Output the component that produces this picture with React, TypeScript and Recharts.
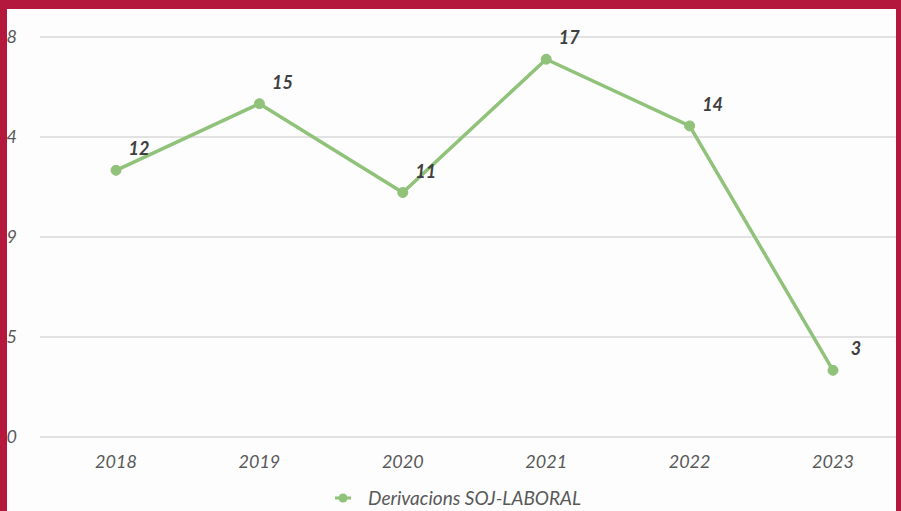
import { LineChart, Line, XAxis, YAxis, CartesianGrid, Legend, LabelList } from 'recharts';

const years = ['2018', '2019', '2020', '2021', '2022', '2023'];
const derivacions = [12, 15, 11, 17, 14, 3];
const yTicks = [0, 4.5, 9, 13.5, 18];
const seriesName = 'Derivacions SOJ-LABORAL';

const data = years.map((year, i) => ({ year, value: derivacions[i] }));

const GREEN = '#90c27a';
const CRIMSON = '#b4183c';
const FONT = 'Lato, "Open Sans", sans-serif';

const PointLabel = (props: any) => {
  const { x, y, value } = props;
  return (
    <text
      x={x + 23}
      y={y - 22}
      textAnchor="middle"
      dominantBaseline="central"
      fontFamily={FONT}
      fontSize={18}
      fontStyle="italic"
      fontWeight={700}
      fill="#404040"
    >
      {value}
    </text>
  );
};

const LegendContent = () => (
  <div style={{ display: 'flex', alignItems: 'center', fontFamily: FONT }}>
    <svg width={18} height={12} style={{ marginRight: 16 }}>
      <line x1={1} y1={6} x2={17} y2={6} stroke={GREEN} strokeWidth={3} />
      <circle cx={9} cy={6} r={4.5} fill={GREEN} />
    </svg>
    <span style={{ fontSize: 19, fontStyle: 'italic', color: '#595959' }}>{seriesName}</span>
  </div>
);

export default function App() {
  return (
    <div
      style={{
        position: 'absolute',
        left: 0,
        top: 0,
        width: 901,
        height: 511,
        overflow: 'hidden',
        background: '#fdfdfd',
      }}
    >
      <LineChart width={908} height={511} data={data} margin={{ top: 37, right: 3, bottom: 44, left: 0 }}>
        <CartesianGrid vertical={false} stroke="#d9d9d9" strokeWidth={1.5} />
        <XAxis
          dataKey="year"
          axisLine={false}
          tickLine={false}
          tickSize={0}
          tickMargin={18}
          padding={{ left: 76, right: 72 }}
          tick={{ fontFamily: FONT, fontSize: 18, fontStyle: 'italic', fill: '#595959' }}
          height={30}
        />
        <YAxis
          width={40}
          domain={[0, 18]}
          ticks={yTicks}
          interval={0}
          axisLine={false}
          tickLine={false}
          tickSize={0}
          tickMargin={23}
          tickFormatter={(v: number) => String(Math.round(v))}
          tick={{ fontFamily: FONT, fontSize: 18, fontStyle: 'italic', fill: '#595959' }}
        />
        <Legend
          verticalAlign="middle"
          align="center"
          content={<LegendContent />}
          wrapperStyle={{ position: 'absolute', left: 334, top: 486, width: 320 }}
        />
        <Line
          type="linear"
          dataKey="value"
          name={seriesName}
          stroke={GREEN}
          strokeWidth={3.5}
          dot={{ r: 5, fill: GREEN, stroke: GREEN, strokeWidth: 1 }}
          isAnimationActive={false}
        >
          <LabelList dataKey="value" content={<PointLabel />} />
        </Line>
      </LineChart>
      <div style={{ position: 'absolute', left: 0, top: 0, width: 901, height: 9, background: CRIMSON }} />
      <div style={{ position: 'absolute', left: 0, top: 0, width: 7, height: 511, background: CRIMSON }} />
      <div style={{ position: 'absolute', left: 896, top: 0, width: 5, height: 511, background: CRIMSON }} />
    </div>
  );
}
